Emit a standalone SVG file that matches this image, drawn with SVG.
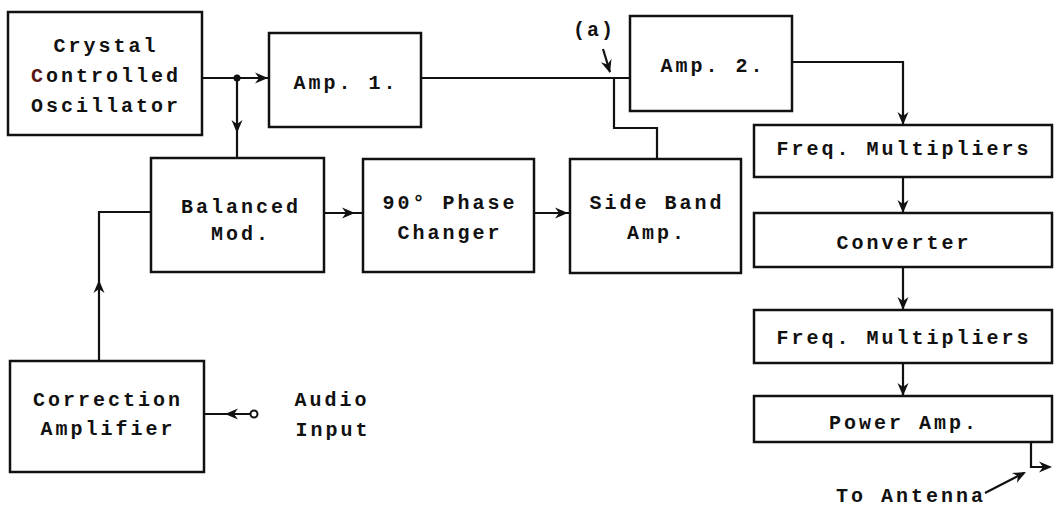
<svg xmlns="http://www.w3.org/2000/svg" width="1059" height="506" viewBox="0 0 1059 506">
<style>
.box{fill:#fff;stroke:#111;stroke-width:2.5}
.t{font-family:"Liberation Mono",monospace;font-weight:bold;font-size:20px;letter-spacing:3px;fill:#111;text-anchor:middle}
.w{fill:none;stroke:#111;stroke-width:2.2}
.ah{fill:#111}
</style>
<defs>
<path id="arr" d="M0,0 L-13,-5.5 L-9,0 L-13,5.5 Z"/>
</defs>
<rect width="1059" height="506" fill="#fff"/>
<g id="connectors">
<path class="w" d="M202,78 H269"/>
<circle cx="237" cy="78" r="3.5" class="ah"/>
<path class="w" d="M237,78 V158"/>
<path class="w" d="M421,78 H630"/>
<path class="w" d="M614,78 V128 H657 V159"/>
<path class="w" d="M324,213 H363"/>
<path class="w" d="M534,213 H570"/>
<path class="w" d="M792,62 H903 V125"/>
<path class="w" d="M903,177 V213"/>
<path class="w" d="M903,267 V310"/>
<path class="w" d="M903,363 V396"/>
<path class="w" d="M1031,442 V467 H1050"/>
<path class="w" d="M99,361 V212 H151"/>
<path class="w" d="M204,414 H250"/>
<circle cx="254" cy="414" r="3.5" fill="#fff" stroke="#111" stroke-width="2"/>
<path class="w" d="M603,49 L610,72"/>
<path class="w" d="M985,493 L1024,473"/>
<use href="#arr" class="ah" transform="translate(268,78)"/>
<use href="#arr" class="ah" transform="translate(237,133) rotate(90)"/>
<use href="#arr" class="ah" transform="translate(355,213)"/>
<use href="#arr" class="ah" transform="translate(568,213)"/>
<use href="#arr" class="ah" transform="translate(903,125) rotate(90)"/>
<use href="#arr" class="ah" transform="translate(903,213) rotate(90)"/>
<use href="#arr" class="ah" transform="translate(903,310) rotate(90)"/>
<use href="#arr" class="ah" transform="translate(903,396) rotate(90)"/>
<use href="#arr" class="ah" transform="translate(1052,467)"/>
<use href="#arr" class="ah" transform="translate(99,280) rotate(-90)"/>
<use href="#arr" class="ah" transform="translate(225,414) rotate(180)"/>
<use href="#arr" class="ah" transform="translate(610,73) rotate(73)"/>
<use href="#arr" class="ah" transform="translate(1026,472) rotate(-27)"/>
</g>
<g id="crystal">
<rect class="box" x="8" y="12" width="194" height="123"/>
<text class="t" x="106" y="52">Crystal</text>
<text class="t" x="106" y="82"><tspan fill="#5a1414">C</tspan>ontrolled</text>
<text class="t" x="106" y="112">Oscillator</text>
</g>
<g id="amp1">
<rect class="box" x="269" y="33" width="152" height="94"/>
<text class="t" x="346" y="89">Amp. 1.</text>
</g>
<g id="amp2">
<rect class="box" x="630" y="16" width="162" height="95"/>
<text class="t" x="713" y="72">Amp. 2.</text>
</g>
<g id="label-a">
<text class="t" x="594" y="36" style="letter-spacing:2px">(a)</text>
</g>
<g id="balanced">
<rect class="box" x="151" y="158" width="173" height="114"/>
<text class="t" x="241" y="213">Balanced</text>
<text class="t" x="241" y="240">Mod.</text>
</g>
<g id="phase">
<rect class="box" x="363" y="159" width="171" height="113"/>
<text class="t" x="450" y="209">90° Phase</text>
<text class="t" x="450" y="239">Changer</text>
</g>
<g id="sideband">
<rect class="box" x="570" y="159" width="171" height="114"/>
<text class="t" x="657" y="209">Side Band</text>
<text class="t" x="657" y="239">Amp.</text>
</g>
<g id="freqmult1">
<rect class="box" x="754" y="125" width="298" height="52"/>
<text class="t" x="904" y="155">Freq. Multipliers</text>
</g>
<g id="converter">
<rect class="box" x="754" y="213" width="298" height="54"/>
<text class="t" x="904" y="249">Converter</text>
</g>
<g id="freqmult2">
<rect class="box" x="754" y="310" width="298" height="53"/>
<text class="t" x="904" y="344">Freq. Multipliers</text>
</g>
<g id="power">
<rect class="box" x="754" y="396" width="298" height="46"/>
<text class="t" x="904" y="429">Power Amp.</text>
</g>
<g id="correction">
<rect class="box" x="10" y="361" width="194" height="111"/>
<text class="t" x="108" y="406">Correction</text>
<text class="t" x="108" y="435">Amplifier</text>
</g>
<g id="audio">
<text class="t" x="332" y="406">Audio</text>
<text class="t" x="333" y="436">Input</text>
</g>
<g id="antenna">
<text class="t" x="911" y="502">To Antenna</text>
</g>
</svg>
